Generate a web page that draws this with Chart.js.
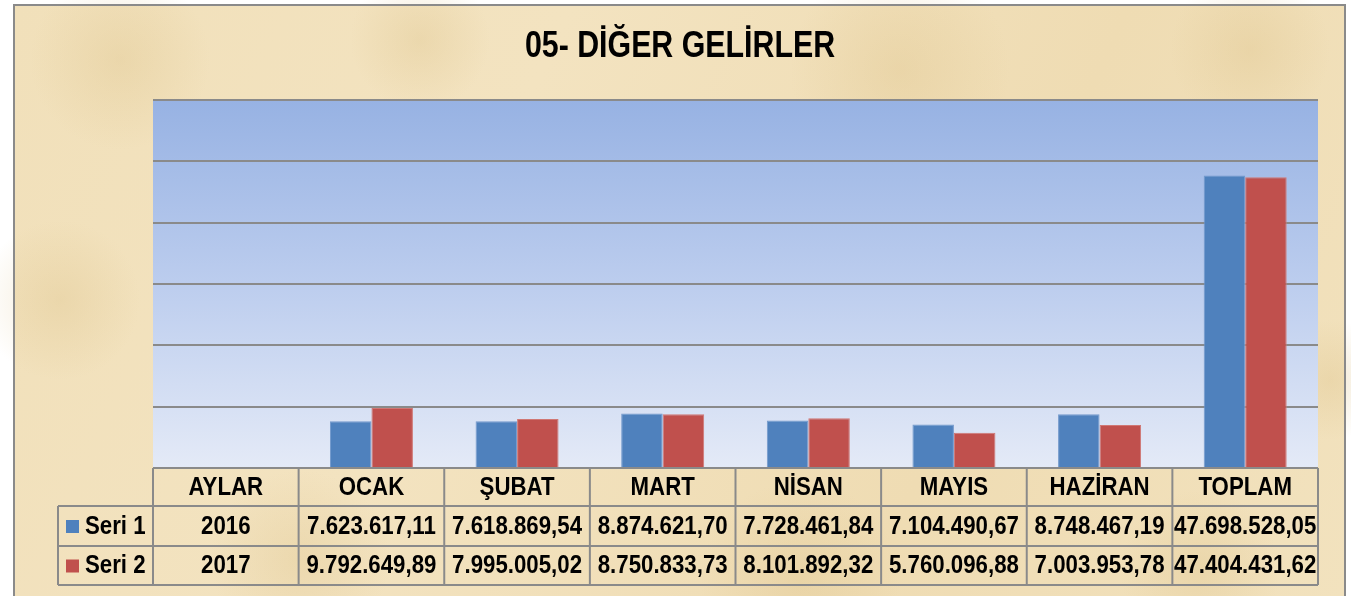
<!DOCTYPE html>
<html lang="tr">
<head>
<meta charset="UTF-8">
<title>05- DİĞER GELİRLER</title>
<script src="https://cdn.jsdelivr.net/npm/chart.js"></script>
<style>
  html, body { margin: 0; padding: 0; background: #ffffff; }
  #wrap { width: 1351px; height: 596px; position: relative; }
</style>
</head>
<body>
<div id="wrap"><canvas id="chart" width="1351" height="596"></canvas></div>
<script>
const categories = ['AYLAR', 'OCAK', 'ŞUBAT', 'MART', 'NİSAN', 'MAYIS', 'HAZİRAN', 'TOPLAM'];
const seriesNames = ['Seri 1', 'Seri 2'];
const years = ['2016', '2017'];
const seri1 = [null, 7623617.11, 7618869.54, 8874621.70, 7728461.84, 7104490.67, 8748467.19, 47698528.05];
const seri2 = [null, 9792649.89, 7995005.02, 8750833.73, 8101892.32, 5760096.88, 7003953.78, 47404431.62];
const yTicks = [0, 10000000, 20000000, 30000000, 40000000, 50000000, 60000000];

const BLUE = '#4F81BD';
const RED = '#C0504D';
const FONT = '"Liberation Sans", Arial, sans-serif';

// 7.623.617,11 style
function trFormat(v) {
  const parts = v.toFixed(2).split('.');
  const intPart = parts[0].replace(/\B(?=(\d{3})+(?!\d))/g, '.');
  return intPart + ',' + parts[1];
}

// the original text is a narrow bold face, so squeeze horizontally
function narrowText(ctx, txt, x, y, size, sx, align) {
  ctx.save();
  ctx.font = 'bold ' + size + 'px ' + FONT;
  ctx.textAlign = align || 'center';
  ctx.textBaseline = 'middle';
  ctx.translate(x, y);
  ctx.scale(sx, 1);
  ctx.fillText(txt, 0, 0);
  ctx.restore();
}

// parchment panel, frame and title
const backdrop = {
  id: 'backdrop',
  beforeDraw(chart) {
    const ctx = chart.ctx;
    ctx.save();
    ctx.fillStyle = '#ffffff';
    ctx.fillRect(0, 0, chart.width, chart.height);
    const g = ctx.createLinearGradient(13, 4, 1345, 596);
    g.addColorStop(0, '#F1E0BA');
    g.addColorStop(0.35, '#F3E3C0');
    g.addColorStop(0.7, '#EFDCB3');
    g.addColorStop(1, '#F2E2BE');
    ctx.fillStyle = g;
    ctx.fillRect(13, 4, 1332, 600);
    // soft mottling
    const spots = [[120, 60, 90], [420, 40, 70], [900, 70, 110], [1250, 50, 80], [60, 300, 80], [1330, 380, 60], [300, 560, 90], [800, 580, 100], [1200, 570, 80]];
    spots.forEach(s => {
      const r = ctx.createRadialGradient(s[0], s[1], 0, s[0], s[1], s[2]);
      r.addColorStop(0, 'rgba(222,196,140,0.35)');
      r.addColorStop(1, 'rgba(222,196,140,0)');
      ctx.fillStyle = r;
      ctx.fillRect(s[0] - s[2], s[1] - s[2], s[2] * 2, s[2] * 2);
    });
    ctx.strokeStyle = '#8A8A8A';
    ctx.lineWidth = 2;
    ctx.strokeRect(14, 5, 1331, 610);

    ctx.fillStyle = '#000000';
    narrowText(ctx, '05- DİĞER GELİRLER', 680, 47, 37, 0.82);

    // plot area fill
    const a = chart.chartArea;
    const pg = ctx.createLinearGradient(0, a.top, 0, a.bottom);
    pg.addColorStop(0, '#97B2E3');
    pg.addColorStop(0.5, '#BCCDEE');
    pg.addColorStop(1, '#E4EAF7');
    ctx.fillStyle = pg;
    ctx.fillRect(a.left, a.top, a.right - a.left, a.bottom - a.top);
    ctx.restore();
  }
};

// data table under the plot
const dataTable = {
  id: 'dataTable',
  afterDraw(chart) {
    const ctx = chart.ctx;
    const a = chart.chartArea;
    const x = chart.scales.x;
    const colW = (a.right - a.left) / categories.length;
    const rows = [a.bottom, a.bottom + 38, a.bottom + 78, a.bottom + 117];
    const legendLeft = 58;
    ctx.save();
    ctx.strokeStyle = '#8A8A8A';
    ctx.lineWidth = 2;
    ctx.beginPath();
    ctx.moveTo(a.left, rows[0]); ctx.lineTo(a.right, rows[0]);
    for (let r = 1; r < rows.length; r++) {
      ctx.moveTo(legendLeft, rows[r]); ctx.lineTo(a.right, rows[r]);
    }
    for (let c = 0; c <= categories.length; c++) {
      const cx = a.left + c * colW;
      ctx.moveTo(cx, rows[0]); ctx.lineTo(cx, rows[3]);
    }
    ctx.moveTo(legendLeft, rows[1]); ctx.lineTo(legendLeft, rows[3]);
    ctx.stroke();

    ctx.fillStyle = '#000000';
    const series = [seri1, seri2];
    categories.forEach((cat, i) => {
      const cx = x.getPixelForValue(i);
      narrowText(ctx, cat, cx, (rows[0] + rows[1]) / 2 + 1, 25, 0.89);
      for (let s = 0; s < 2; s++) {
        const v = series[s][i];
        const txt = v === null ? years[s] : trFormat(v);
        narrowText(ctx, txt, cx, (rows[s + 1] + rows[s + 2]) / 2 + 1, 25, 0.89);
      }
    });
    const colors = [BLUE, RED];
    for (let s = 0; s < 2; s++) {
      const my = (rows[s + 1] + rows[s + 2]) / 2;
      ctx.fillStyle = colors[s];
      ctx.fillRect(66, my - 6, 13, 13);
      ctx.fillStyle = '#000000';
      narrowText(ctx, seriesNames[s], 85, my + 1, 25, 0.89, 'left');
    }
    ctx.restore();
  }
};

new Chart(document.getElementById('chart'), {
  type: 'bar',
  data: {
    labels: categories,
    datasets: [
      { label: seriesNames[0], data: seri1, backgroundColor: BLUE, borderColor: '#7399CC', borderWidth: 1 },
      { label: seriesNames[1], data: seri2, backgroundColor: RED, borderColor: '#D07774', borderWidth: 1 }
    ]
  },
  options: {
    responsive: false,
    animation: false,
    layout: { padding: { left: 153, right: 33, top: 100, bottom: 128 } },
    datasets: { bar: { categoryPercentage: 0.57, barPercentage: 1.0 } },
    plugins: {
      legend: { display: false },
      title: { display: false },
      tooltip: { enabled: false }
    },
    scales: {
      x: {
        grid: { display: false, drawTicks: false },
        border: { display: false },
        ticks: { display: false }
      },
      y: {
        min: yTicks[0],
        max: yTicks[yTicks.length - 1],
        afterBuildTicks(scale) { scale.ticks = yTicks.map(v => ({ value: v })); },
        grid: { color: '#8A8A8A', lineWidth: 2, drawTicks: false },
        border: { display: false },
        ticks: { display: false }
      }
    }
  },
  plugins: [backdrop, dataTable]
});
</script>
</body>
</html>
